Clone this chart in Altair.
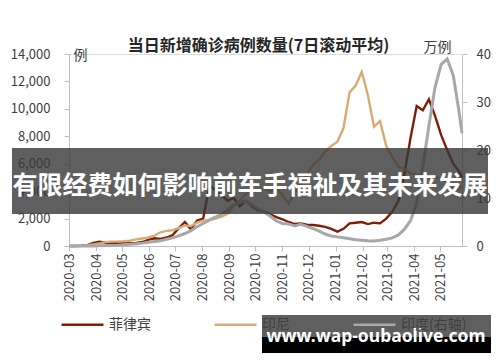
import altair as alt
import pandas as pd

dates = [
    "2020-03-01", "2020-03-08", "2020-03-15", "2020-03-22", "2020-03-29",
    "2020-04-05", "2020-04-12", "2020-04-19", "2020-04-26",
    "2020-05-03", "2020-05-10", "2020-05-17", "2020-05-24", "2020-05-31",
    "2020-06-07", "2020-06-14", "2020-06-21", "2020-06-28",
    "2020-07-05", "2020-07-12", "2020-07-19", "2020-07-26",
    "2020-08-02", "2020-08-09", "2020-08-16", "2020-08-23", "2020-08-30",
    "2020-09-06", "2020-09-13", "2020-09-20", "2020-09-27",
    "2020-10-04", "2020-10-11", "2020-10-18", "2020-10-25",
    "2020-11-01", "2020-11-08", "2020-11-15", "2020-11-22", "2020-11-29",
    "2020-12-06", "2020-12-13", "2020-12-20", "2020-12-27",
    "2021-01-03", "2021-01-10", "2021-01-17", "2021-01-24", "2021-01-31",
    "2021-02-07", "2021-02-14", "2021-02-21", "2021-02-28",
    "2021-03-07", "2021-03-14", "2021-03-21", "2021-03-28",
    "2021-04-04", "2021-04-11", "2021-04-18", "2021-04-25",
    "2021-05-02", "2021-05-09", "2021-05-16", "2021-05-23", "2021-05-26",
]

philippines = [
    0, 3, 15, 60, 230,
    320, 240, 210, 230,
    250, 200, 230, 290, 450,
    560, 520, 620, 800,
    1300, 1750, 1200, 1850,
    2000, 4400, 4100, 3700, 3300,
    3500, 2900, 3300, 2900,
    2600, 2500, 2300, 2100,
    1950, 1750, 1600, 1650, 1550,
    1530, 1480, 1400, 1250,
    1050, 1250, 1650, 1700, 1750,
    1600, 1700, 1650, 2000,
    2500, 3300, 5300, 7900,
    10200, 9900, 10700, 9500,
    8100, 7000, 6000, 5400, 5000,
]

indonesia = [
    0, 0, 10, 50, 110,
    180, 280, 320, 330,
    350, 380, 480, 550, 620,
    750, 1000, 1100, 1150,
    1300, 1500, 1450, 1700,
    1850, 1900, 2000, 2150, 2350,
    2900, 3300, 3800, 4100,
    4000, 4200, 4000, 4200,
    3700, 3100, 3900, 4500, 5200,
    5900, 6300, 6900, 7300,
    7600, 8600, 11200, 11700, 12700,
    11000, 8700, 9100, 7300,
    6500, 5800, 5600, 5300,
    5200, 5000, 5100, 5000,
    4900, 4600, 4000, 4200, 4400,
]

india_wan = [
    0, 0, 0.01, 0.01, 0.02,
    0.05, 0.08, 0.12, 0.17,
    0.25, 0.35, 0.45, 0.6, 0.78,
    0.95, 1.1, 1.4, 1.7,
    2.1, 2.6, 3.2, 4.0,
    4.7, 5.4, 6.0, 6.6, 7.5,
    8.5, 9.2, 9.3, 8.6,
    7.7, 7.1, 6.2, 5.2,
    4.7, 4.6, 4.2, 4.5, 4.1,
    3.6, 3.1, 2.5, 2.1,
    1.9, 1.7, 1.5, 1.3, 1.2,
    1.1, 1.05, 1.2, 1.4,
    1.7, 2.3, 3.5, 5.3,
    9.0, 16.5, 25.0, 33.0,
    37.8, 39.0, 35.5, 27.5, 23.5,
]

series_names = ["菲律宾", "印尼", "印度(右轴)"]
series_colors = ["#7f1f0a", "#d9ab74", "#a8a8a8"]
left_ticks = [0, 2000, 4000, 6000, 8000, 10000, 12000, 14000]
right_ticks = [0, 10, 20, 30, 40]

title_text = "当日新增确诊病例数量(7日滚动平均)"
banner_text = "有限经费如何影响前车手福祉及其未来发展"
watermark_text = "www.wap-oubaolive.com"

FONT = "Noto Sans CJK SC"

df_left = pd.DataFrame({
    "date": dates * 2,
    "value": philippines + indonesia,
    "series": [series_names[0]] * len(dates) + [series_names[1]] * len(dates),
})
df_right = pd.DataFrame({
    "date": dates,
    "value": india_wan,
    "series": [series_names[2]] * len(dates),
})

x_enc = alt.X(
    "date:T",
    scale=alt.Scale(
        type="utc",
        domain=[alt.DateTime(year=2020, month=3, date=1, utc=True),
                alt.DateTime(year=2021, month=5, date=26, utc=True)],
    ),
    axis=alt.Axis(
        labelExpr="utcFormat(datum.value, '%Y-%m')", labelAngle=270,
        tickCount={"interval": "month", "step": 1},
        grid=False, domainColor="#bfbfbf", tickColor="#bfbfbf", tickSize=5,
        labelFontSize=13, labelColor="#404040", labelPadding=2,
        labelOverlap=False, labelFlush=False, title=None, labelFont=FONT,
    ),
)

color_enc = alt.Color(
    "series:N",
    scale=alt.Scale(domain=series_names, range=series_colors),
    legend=alt.Legend(
        orient="none", legendX=-9, legendY=248, direction="horizontal",
        title=None, symbolType="stroke", symbolSize=1760, symbolStrokeWidth=2.5,
        labelFontSize=14, labelColor="#404040", columnPadding=58, labelOffset=4,
        padding=0, labelFont=FONT,
    ),
)

left = alt.Chart(df_left).mark_line(strokeWidth=2.4).encode(
    x=x_enc,
    y=alt.Y(
        "value:Q",
        scale=alt.Scale(domain=[0, 14000]),
        axis=alt.Axis(
            values=left_ticks, format=",.0f", grid=False,
            domainColor="#bfbfbf", tickColor="#bfbfbf", tickSize=5,
            labelPadding=14, labelFontSize=13, labelColor="#404040", labelFont=FONT,
            title="例", titleAngle=0, titleX=11, titleY=1, titleAlign="center",
            titleBaseline="middle", titleFontSize=14, titleFontWeight="normal",
            titleColor="#404040", titleFont=FONT,
        ),
    ),
    color=color_enc,
)

right = alt.Chart(df_right).mark_line(strokeWidth=3.0).encode(
    x=x_enc,
    y=alt.Y(
        "value:Q",
        scale=alt.Scale(domain=[0, 40]),
        axis=alt.Axis(
            orient="right", values=right_ticks, format=".0f", grid=False,
            domainColor="#bfbfbf", tickColor="#bfbfbf", tickSize=5,
            labelPadding=9, labelFontSize=13, labelColor="#404040", labelFont=FONT,
            title="万例", titleAngle=0, titleX=-25, titleY=-7, titleAlign="center",
            titleBaseline="middle", titleFontSize=14, titleFontWeight="normal",
            titleColor="#404040", titleFont=FONT,
        ),
    ),
    color=color_enc,
)

band = alt.Chart(pd.DataFrame({"k": [0]})).mark_rect(
    color="#373737", opacity=0.8
).encode(x=alt.value(-57), x2=alt.value(419), y=alt.value(94), y2=alt.value(160))

band_label = alt.Chart(pd.DataFrame({"label": [banner_text]})).mark_text(
    color="white", fontSize=25, fontWeight="bold", font=FONT,
    align="center", baseline="middle",
).encode(x=alt.value(181), y=alt.value(132), text="label:N")

wm_top = alt.Chart(pd.DataFrame({"k": [0]})).mark_rect(
    color="#373737", opacity=0.8
).encode(x=alt.value(193), x2=alt.value(422), y=alt.value(261), y2=alt.value(283))

wm_bottom = alt.Chart(pd.DataFrame({"k": [0]})).mark_rect(
    color="#000000"
).encode(x=alt.value(193), x2=alt.value(422), y=alt.value(283), y2=alt.value(299))

wm_label = alt.Chart(pd.DataFrame({"label": [watermark_text]})).mark_text(
    color="white", fontSize=17.5, fontWeight="bold", font="Noto Sans",
    align="center", baseline="middle",
).encode(x=alt.value(307), y=alt.value(283), text="label:N")

chart = alt.layer(
    left, right, band, band_label, wm_top, wm_bottom, wm_label
).resolve_scale(
    y="independent"
).properties(
    width=393, height=192,
    autosize=alt.AutoSizeParams(type="none"),
    padding={"left": 69, "top": 54, "right": 38, "bottom": 116},
    title=alt.TitleParams(
        title_text, fontSize=16, fontWeight="bold", color="#262626",
        anchor="middle", dx=-7, dy=16, offset=2, font=FONT,
    ),
).configure_view(stroke=None).configure(background="white")

chart.save("out.html", embed_options={"renderer": "svg", "actions": False})
